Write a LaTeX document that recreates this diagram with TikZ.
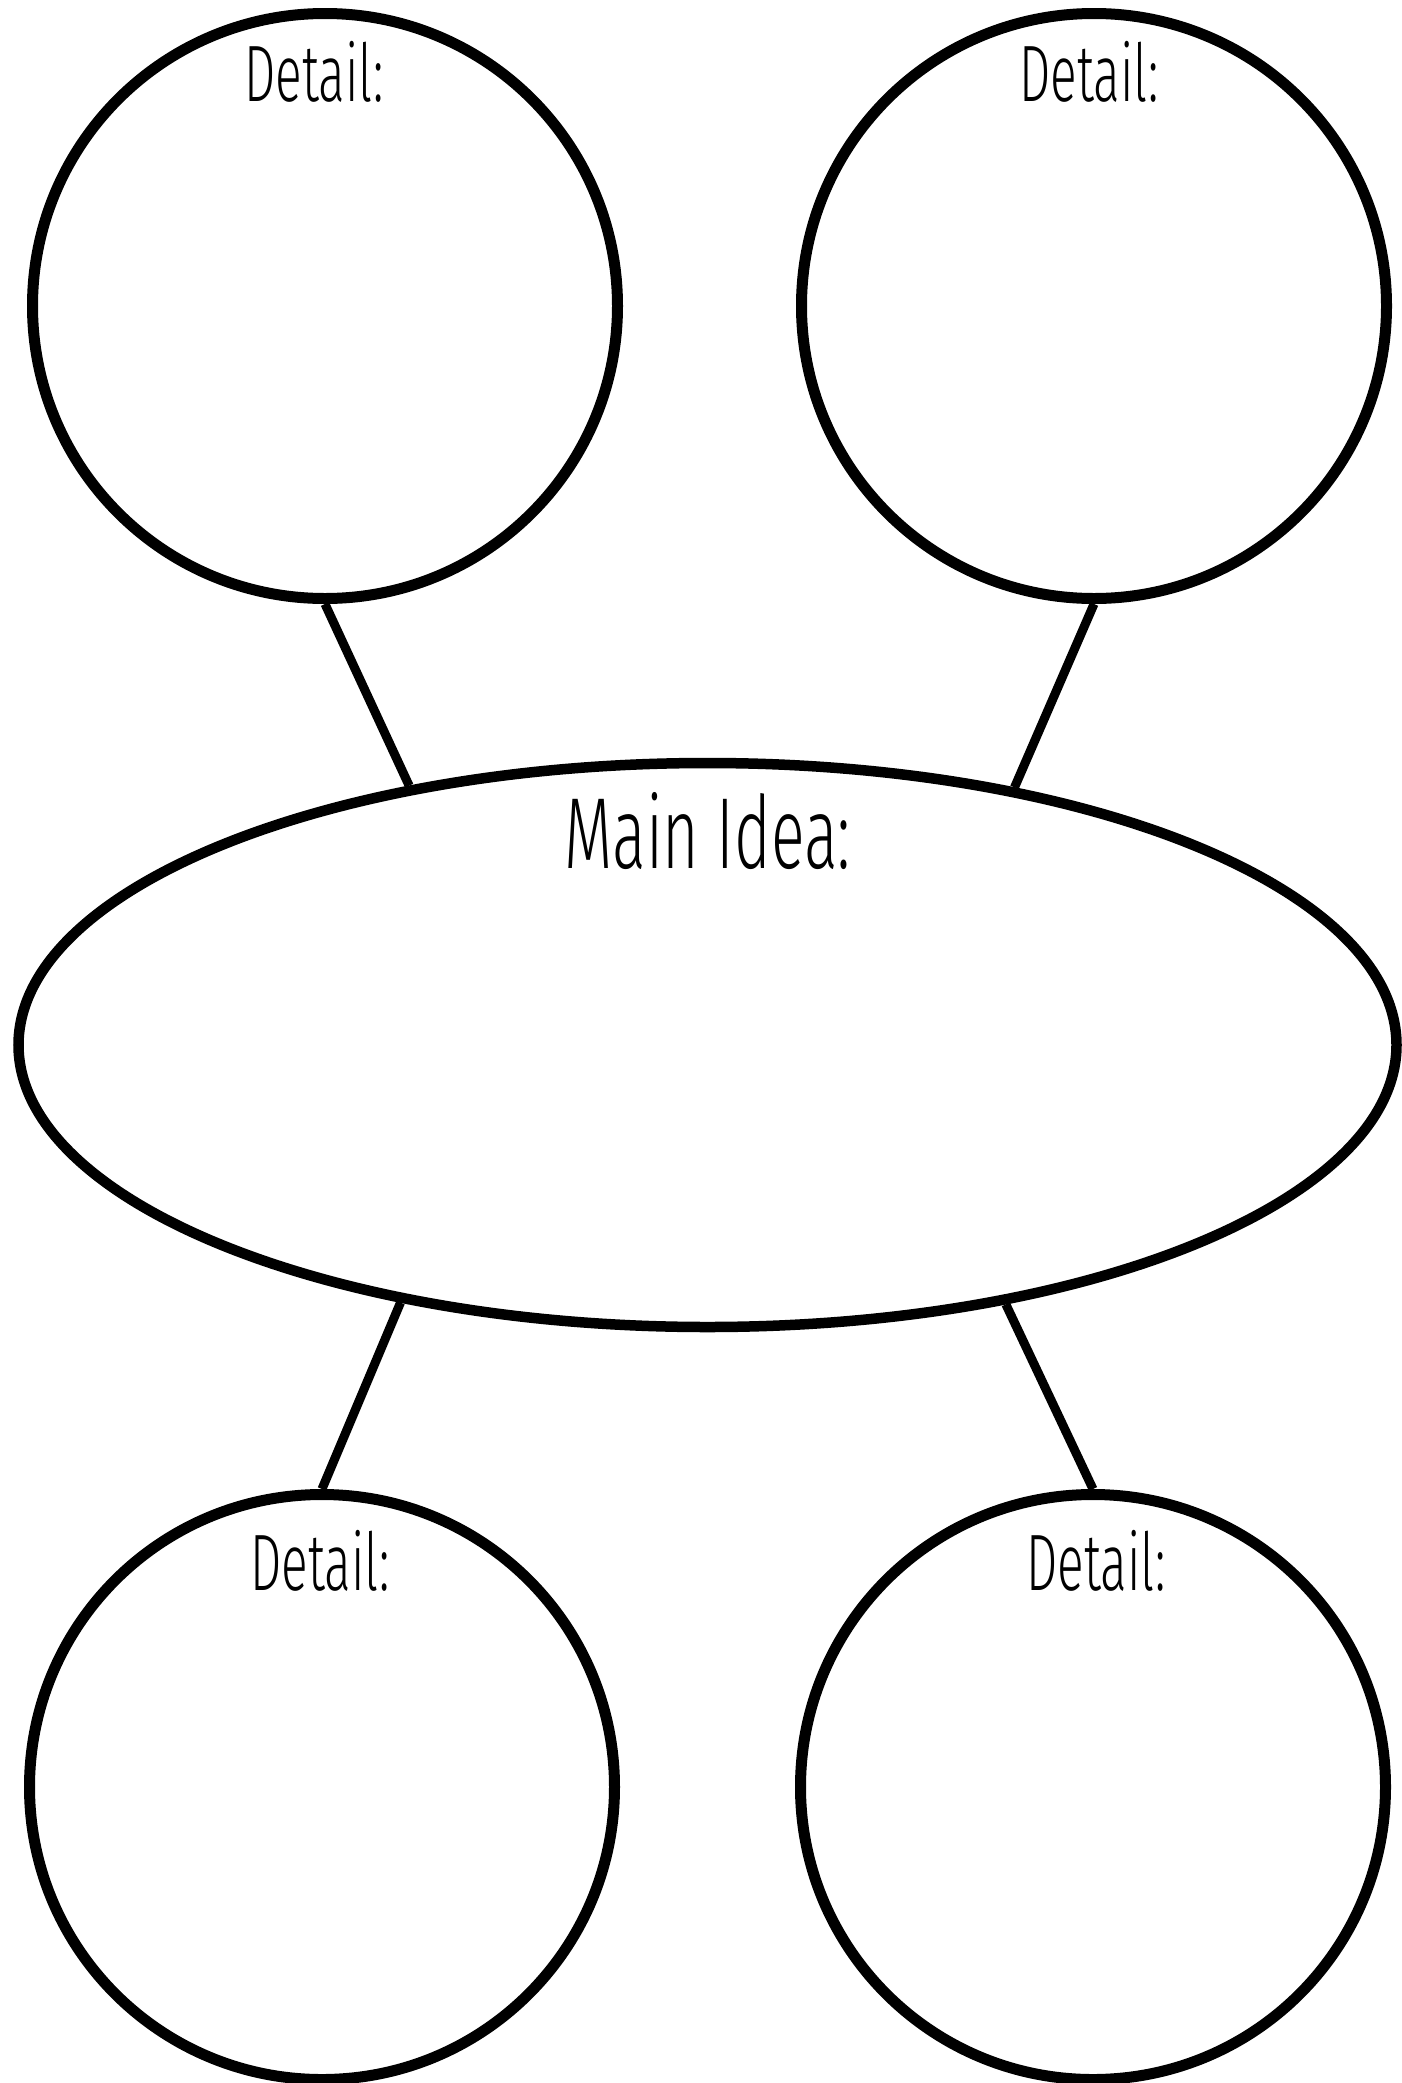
\documentclass[tikz,border=0pt]{standalone}
\usepackage{fontspec}
\usepackage{graphicx}
\newfontfamily\handfont{Fira Sans Light}
\usetikzlibrary{shapes.geometric}
\tikzset{
  bubble/.style={circle, draw=black, line width=11pt, inner sep=0pt, minimum size=585pt},
  mainshape/.style={ellipse, draw=black, line width=10.5pt, inner sep=0pt, minimum width=1378pt, minimum height=564pt},
  link/.style={draw=black, line width=9pt},
  detaillabel/.style={anchor=base, inner sep=0pt, font=\handfont\fontsize{80pt}{90pt}\selectfont},
  mainlabel/.style={anchor=base, inner sep=0pt, font=\handfont\fontsize{101pt}{110pt}\selectfont}
}
\begin{document}
\begin{tikzpicture}[x=1pt, y=-1pt]
\useasboundingbox[fill=white] (0,0) rectangle (1402,2083);
% detail circles
\node[bubble] (tl) at (325,306) {};
\node[bubble] (tr) at (1094,306) {};
\node[bubble] (bl) at (322,1787) {};
\node[bubble] (br) at (1093,1787) {};
% main idea ellipse
\node[mainshape] (main) at (707.5,1045) {};
% labels
\node[detaillabel] (tlt) at (314,101) {\scalebox{0.62}[1]{Detail:}};
\node[detaillabel] (trt) at (1089,101) {\scalebox{0.62}[1]{Detail:}};
\node[detaillabel] (blt) at (320,1590) {\scalebox{0.62}[1]{Detail:}};
\node[detaillabel] (brt) at (1096,1590) {\scalebox{0.62}[1]{Detail:}};
\node[mainlabel] (mainT) at (707.5,868) {\scalebox{0.62}[1]{Main Idea:}};
% connectors
\draw[link] (tl.south) -- (main.139.6);
\draw[link] (tr.south) -- (main.40.5);
\draw[link] (bl.north) -- (main.220.4);
\draw[link] (br.north) -- (main.319.7);
\end{tikzpicture}
\end{document}
